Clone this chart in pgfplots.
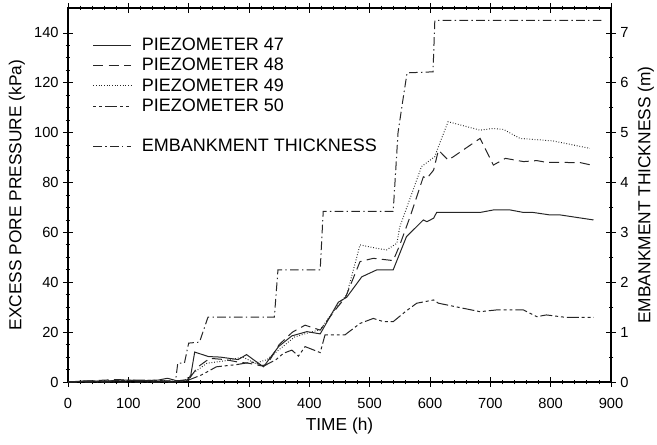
\documentclass[border=0pt]{standalone}
\usepackage{fontspec}
\setmainfont{Liberation Sans}
\usepackage{pgfplots}
\pgfplotsset{compat=1.18}
\begin{document}
\begin{tikzpicture}
\pgfplotsset{
  every axis/.append style={
    scale only axis, width=407.25pt, height=280.5pt,
    xmin=0, xmax=900,
    tick align=center, major tick length=7pt, minor tick length=3.5pt,
    every tick/.style={black, line width=0.6pt},
    axis line style={line width=0.8pt, black},
    /pgf/number format/assume math mode=true,
    tick label style={font=\fontsize{11}{13}\selectfont},
    label style={font=\fontsize{13}{15}\selectfont},
  },
  p47/.style={black!85, line width=0.75pt},
  p48/.style={black!85, line width=0.75pt, dash pattern=on 7.5pt off 4pt},
  p49/.style={black!85, line width=0.75pt, dash pattern=on 0.6pt off 1.4pt},
  p50/.style={black!85, line width=0.75pt, dash pattern=on 2.2pt off 2.2pt on 2.2pt off 2.2pt on 9pt off 2.2pt},
  emb/.style={black!85, line width=0.75pt, dash pattern=on 6.5pt off 2.5pt on 1pt off 2.5pt},
}
\begin{axis}[
  ymin=0, ymax=150,
  xtick={0,100,...,900}, minor x tick num=4,
  ytick={0,20,...,140}, minor y tick num=3,
  xtick pos=both, xticklabel pos=lower, ytick pos=left,
  xticklabel style={yshift=-5.5pt},
  xlabel={TIME (h)}, xlabel style={yshift=0pt},
  ylabel={EXCESS PORE PRESSURE (kPa)},
]
\addplot[p47] coordinates {(0,0) (30,0.5) (60,0.3) (90,0.8) (120,0.5) (150,0.8) (165,1.5) (180,0.5) (197,0.8) (203,2) (210,12) (233,10.2) (252,10) (282,9) (296,11) (306,9.2) (324,6.1) (349,14.2) (371,18.5) (396,20.2) (418,19.3) (448,32) (462,34) (487,42.2) (512,45) (539,45) (561,58.3) (589,65) (595,64.3) (606,65.7) (611,68) (683,68) (705,69) (733,69) (755,68) (771,68) (799,67) (816,67) (871,65)};
\addplot[p48] coordinates {(0,0) (40,0.5) (80,1) (120,0.5) (160,0.3) (185,0.5) (200,1) (215,6) (235,9.5) (260,9) (282,8) (300,7.5) (320,6.5) (330,7) (350,15) (372,20) (393,22.8) (418,20.8) (440,28) (460,34) (484,48.3) (506,49.6) (539,48.7) (550,55) (567,66.3) (589,82.3) (595,81.7) (606,85) (614,93) (630,89) (639,90.4) (683,97.7) (705,87) (725,89.7) (755,88.4) (777,88.8) (793,88.1) (849,88) (871,86.8)};
\addplot[p49] coordinates {(0,0) (50,0.4) (100,0.6) (150,0.4) (185,0.3) (195,1) (210,4) (230,7.5) (260,8.5) (290,10) (310,7.5) (330,9) (350,13) (375,18) (395,19.5) (418,21) (445,30) (462,35) (484,55) (512,53.6) (528,53) (545,55.6) (550,62.3) (586,86.4) (608,90.4) (614,94.4) (630,104.4) (683,101) (705,101.7) (722,101.3) (749,97.7) (804,96.7) (865,93.7)};
\addplot[p50] coordinates {(0,0) (60,0.3) (120,0.8) (170,0.4) (190,0.3) (200,0.8) (221,2.8) (246,6.1) (280,7) (305,8) (325,6.5) (345,9) (357,11.5) (371,12.8) (382,10.4) (393,14.2) (418,11.8) (426,18.9) (459,18.9) (484,23.5) (506,25.5) (523,24.2) (539,24.2) (559,28.2) (578,31.6) (606,32.9) (614,31.6) (683,28.2) (710,28.9) (755,28.9) (777,26.2) (793,26.9) (826,25.9) (871,25.9)};
\end{axis}
\begin{axis}[
  ymin=0, ymax=7.5,
  axis x line=none, axis y line*=right,
  ytick={0,1,...,7}, minor y tick num=1,
  ylabel={EMBANKMENT THICKNESS (m)},
  legend cell align=left,
  legend style={at={(rel axis cs:0.038,0.935)}, anchor=north west, draw=none, fill=none,
    font=\fontsize{13.5}{15}\selectfont,
    /tikz/every odd column/.append style={column sep=6pt},
    nodes={text height=10pt, text depth=2.2pt, inner sep=1.5pt}},
  legend image code/.code={\draw[#1] (0pt,0pt) -- (28.5pt,0pt);},
]
\addlegendimage{p47}\addlegendentry{PIEZOMETER 47}
\addlegendimage{p48}\addlegendentry{PIEZOMETER 48}
\addlegendimage{p49}\addlegendentry{PIEZOMETER 49}
\addlegendimage{p50}\addlegendentry{PIEZOMETER 50}
\addlegendimage{empty legend}\addlegendentry{}
\addplot[emb] coordinates {(0,0) (178,0) (182,0.38) (193,0.38) (200,0.78) (218,0.8) (232,1.3) (342,1.3) (348,2.25) (418,2.25) (423,3.42) (539,3.42) (547,5.0) (555,5.65) (562,6.2) (605,6.22) (608,7.25) (888,7.25)};
\addlegendentry{EMBANKMENT THICKNESS}
\end{axis}
\pgfresetboundingbox
\path (-51pt,-46.5pt) rectangle (441.75pt,286.5pt);
\end{tikzpicture}
\end{document}
